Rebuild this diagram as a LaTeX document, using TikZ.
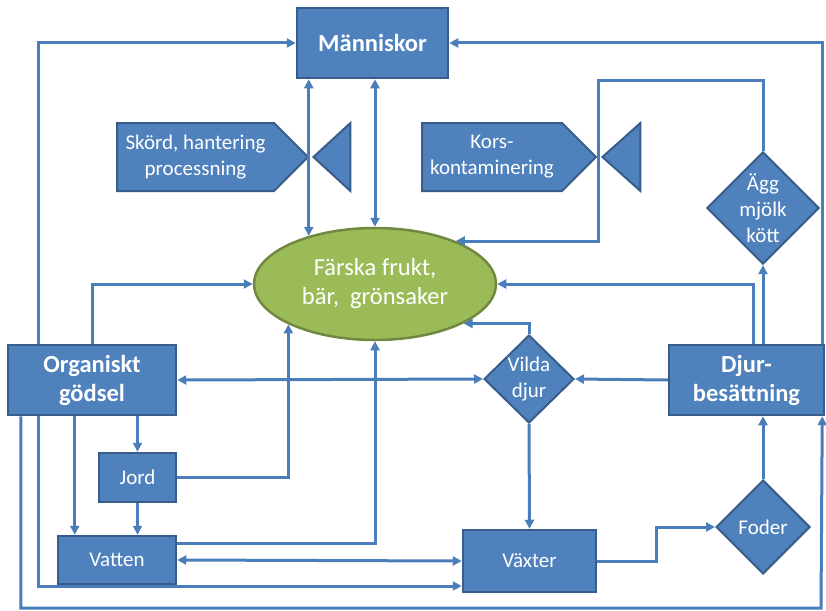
\documentclass[tikz,border=0pt]{standalone}
\usepackage{fontspec}
\setmainfont{Carlito}
\usepackage{tikz}
\usetikzlibrary{shapes.geometric, shapes.symbols, arrows.meta, calc}
\definecolor{boxblue}{RGB}{79,129,189}
\definecolor{boxline}{RGB}{56,93,138}
\definecolor{linkblue}{RGB}{74,126,187}
\definecolor{foodgreen}{RGB}{155,187,89}
\definecolor{foodline}{RGB}{113,137,63}
\newcommand{\boxfont}{\fontsize{21}{26}\selectfont}
\newcommand{\bigfont}{\fontsize{24.5}{29}\selectfont}
\tikzset{
  box/.style={
    rectangle, draw=boxline, fill=boxblue, line width=2.5pt,
    text=white, align=center, font=\boxfont, inner sep=0pt
  },
  bbox/.style={box, font=\bfseries\bigfont},
  dia/.style={box, diamond, aspect=1, line width=2pt},
  sig/.style={box, signal, signal to=east, signal pointer angle=90,
    line width=2pt, anchor=west},
  valve/.style={draw=boxline, fill=boxblue, line width=2pt},
  food/.style={
    ellipse, draw=foodline, fill=foodgreen, line width=2.5pt,
    text=white, align=center, font=\bigfont, inner sep=0pt,
    minimum width=242pt, minimum height=112pt
  },
  arr/.style={-{Triangle[length=9pt,width=9pt]}, line width=3pt,
    draw=linkblue},
  darr/.style={arr, {Triangle[length=9pt,width=9pt]}-{Triangle[length=9pt,width=9pt]}}
}
\begin{document}
\begin{tikzpicture}[x=1pt, y=-1pt]
  \useasboundingbox (0,0) rectangle (826,610);

  %% -- noder ----------------------------------------------
  \node[bbox, minimum width=151pt, minimum height=70pt] (man) at (372.5,43) {Människor};
  \node[food] (ell) at (375,284) {Färska frukt,\\bär,~ grönsaker};
  \node[sig, minimum width=191pt, minimum height=68pt] (skord) at (116,157)
        {Skörd, hantering\\processning};
  \node[sig, minimum width=174pt, minimum height=68pt] (kors) at (421,157)
        {Kors-\\kontaminering};
  \node[dia, minimum width=112pt, minimum height=112pt, inner sep=-1pt] (agg) at (763,208)
        {Ägg\\mjölk\\kött};
  \node[bbox, minimum width=168pt, minimum height=70pt] (org) at (92,380) {Organiskt\\gödsel};
  \node[bbox, minimum width=155pt, minimum height=70pt] (djur) at (746.5,380) {Djur-\\besättning};
  \node[dia, minimum width=90pt, minimum height=88pt] (vilda) at (529,379) {Vilda\\djur};
  \node[box, minimum width=77pt, minimum height=49pt] (jord) at (137.5,477.5) {Jord};
  \node[box, minimum width=118pt, minimum height=48pt] (vatten) at (117,560) {Vatten};
  \node[box, minimum width=133pt, minimum height=62pt] (vaxter) at (529.5,561) {Växter};
  \node[dia, minimum width=94pt, minimum height=94pt] (foder) at (763,527) {Foder};

  %% -- ventiler -------------------------------------------
  \draw[valve] ([xshift=4pt]skord.east) -- ++(37,-34) -- ++(0,68) -- cycle;
  \draw[valve] ([xshift=5pt]kors.east) -- ++(38,-34) -- ++(0,68) -- cycle;

  %% -- pilar ----------------------------------------------
  \draw[arr] ([xshift=32pt]org.north west) |- (man.west);
  \draw[arr] (org.north) |- (ell.west);
  \draw[darr] (ell.144 |- man.south) -- (ell.144);
  \draw[darr] (ell.north |- man.south) -- (ell.north);
  \draw[arr] (agg.north) |- (598,80) |- (ell.28);
  \draw[arr] ([xshift=-3pt]djur.north east) |- (man.east);
  \draw[arr] (agg.south |- djur.north) -- (agg.south);
  \draw[arr] ([xshift=-10pt]agg.south |- djur.north) |- (ell.east);
  \draw[arr] (djur.west) -- (vilda.east);
  \draw[darr] (org.east) -- (vilda.west);
  \draw[arr] (vilda.north) |- (ell.-24);
  \draw[arr] (vilda.south) -- (vaxter.north);
  \draw[arr] (vaxter.east) -- ++(59,0) |- (foder.west);
  \draw[arr] (foder.north) -- (foder.north |- djur.south);

  %% -- nedre delen ----------------------------------------
  \draw[arr] ([xshift=14pt]org.south west) |- (821,608) -- ([xshift=-3pt]djur.south east);
  \draw[arr] ([xshift=32pt]org.south west) |- ([yshift=-25pt]vaxter.west);
  \draw[darr] (vatten.east) -- (vaxter.west);
  \draw[arr] (jord.north |- org.south) -- (jord.north);
  \draw[arr] ([xshift=18pt]vatten.north west |- org.south) -- ([xshift=18pt]vatten.north west);
  \draw[arr] (jord.south) -- (jord.south |- vatten.north);
  \draw[arr] (jord.east) -| (ell.205);
  \draw[arr] ([yshift=17pt]vatten.east) -| (ell.south);

\end{tikzpicture}
\end{document}
